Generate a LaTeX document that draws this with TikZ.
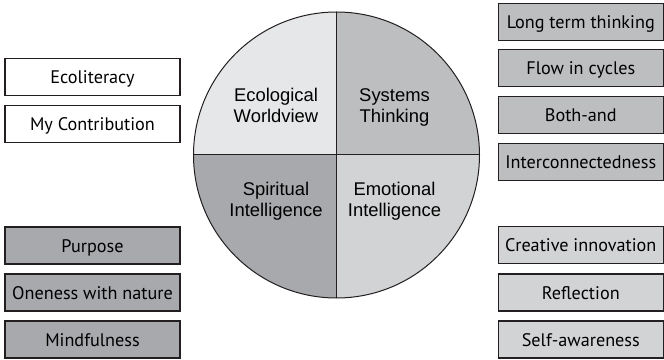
\documentclass[tikz,border=0pt]{standalone}
\usepackage{fontspec}
\setmainfont{Liberation Sans}
\newfontfamily\tagfont{PT Sans}
\usepackage{tikz}
\usetikzlibrary{positioning}
\definecolor{paleq}{HTML}{E6E7E8}
\definecolor{softq}{HTML}{D1D3D4}
\definecolor{midq}{HTML}{BCBEC0}
\definecolor{deepq}{HTML}{A7A9AC}
\definecolor{edge}{HTML}{231F20}
\tikzstyle{tag} = [rectangle, draw=edge, line width=1.2pt, minimum height=37pt, inner sep=0pt, text height=13.2pt, text depth=0pt, font=\tagfont\fontsize{18.2}{21}\selectfont]
\tikzstyle{ltag} = [tag, minimum width=175pt]
\tikzstyle{rtag} = [tag, minimum width=165pt]
\tikzstyle{quad} = [align=center, inner sep=0pt, font=\fontsize{18.4}{21}\selectfont]

\begin{document}
\begin{tikzpicture}[x=1pt, y=1pt]
\useasboundingbox (0,0) rectangle (664,359);
% the four quarters
\coordinate (C) at (336.5,204);
\fill [paleq] (C) -- ++(-143,0) arc [start angle=180, end angle=90, radius=143pt] -- cycle;
\fill [midq] (C) -- ++(0,143) arc [start angle=90, end angle=0, radius=143pt] -- cycle;
\fill [deepq] (C) -- ++(0,-143) arc [start angle=270, end angle=180, radius=143pt] -- cycle;
\fill [softq] (C) -- ++(143,0) arc [start angle=0, end angle=-90, radius=143pt] -- cycle;
\draw [draw=edge, line width=1pt] (C) circle [radius=143pt];
\draw [draw=edge, line width=1pt] (C) ++(-143,0) -- ++(286,0);
\draw [draw=edge, line width=1pt] (C) ++(0,143) -- ++(0,-286);

\node [quad] (Q1) at (276,253.5) {Ecological\\Worldview};
\node [quad] (Q2) at (394.5,251.5) {Systems\\Thinking};
\node [quad] (Q3) at (276,157.8) {Spiritual\\Intelligence};
\node [quad] (Q4) at (394.5,157.8) {Emotional\\Intelligence};

% left column
\node [ltag, fill=white] (L1) at (92.5,281.6) {Ecoliteracy};
\node [ltag, fill=white] (L2) at (92.5,235.3) {My Contribution};
\node [ltag, fill=deepq] (L3) at (92.5,113.5) {Purpose};
\node [ltag, fill=deepq] (L4) at (92.5,66.5) {Oneness with nature};
\node [ltag, fill=deepq] (L5) at (92.5,19.5) {Mindfulness};

% right column
\node [rtag, fill=midq] (R1) at (580.8,337) {Long term thinking};
\node [rtag, fill=midq] (R2) at (580.8,290.7) {Flow in cycles};
\node [rtag, fill=midq] (R3) at (580.8,243.7) {Both-and};
\node [rtag, fill=midq] (R4) at (580.8,197.3) {Interconnectedness};
\node [rtag, fill=softq] (R5) at (580.8,113.7) {Creative innovation};
\node [rtag, fill=softq] (R6) at (580.8,66.5) {Reflection};
\node [rtag, fill=softq] (R7) at (580.8,19.5) {Self-awareness};
\end{tikzpicture}
\end{document}
